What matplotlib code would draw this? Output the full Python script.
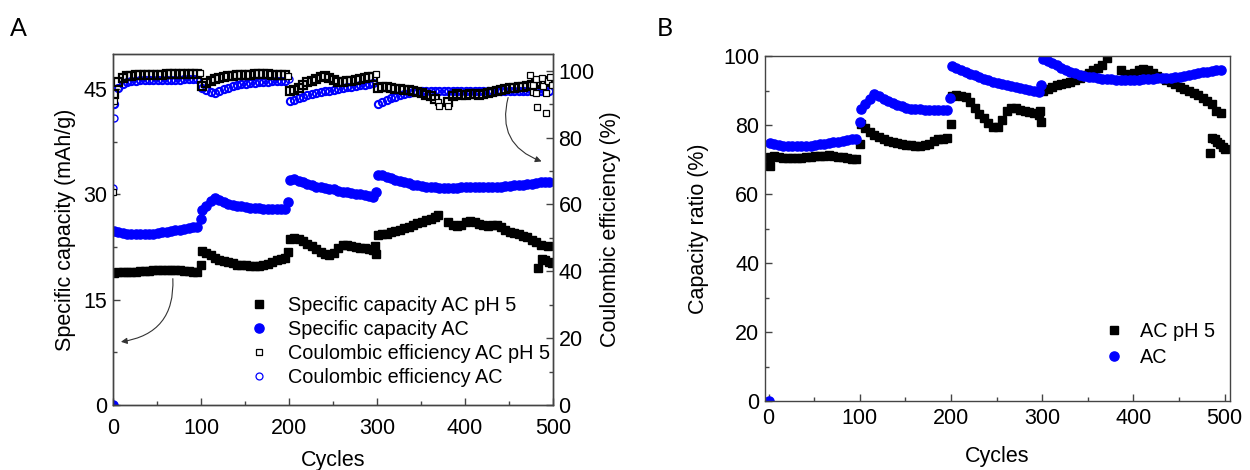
import numpy as np
import matplotlib
matplotlib.use('Agg')
import matplotlib.pyplot as plt

plt.rcParams['font.family'] = ['Liberation Sans', 'DejaVu Sans']

# cycle index of the sampled points (every 5th cycle)
cycles = list(range(1, 500, 5))

# ---- panel A : specific capacity (mAh/g) ----
cap_ph5 = [18.8, 19.0, 19.0, 19.0, 19.0, 19.0, 19.1, 19.1, 19.1, 19.2, 19.2, 19.3, 19.3, 19.3, 19.3, 19.2, 19.1, 19.1, 19.0, 19.0,
           22.0, 21.6, 21.3, 21.0, 20.7, 20.5, 20.3, 20.2, 20.0, 19.9, 19.9, 19.8, 19.8, 19.8, 19.9, 20.1, 20.4, 20.6, 20.8, 21.0,
           23.7, 23.8, 23.6, 23.4, 23.0, 22.6, 22.2, 21.8, 21.5, 21.4, 21.7, 22.4, 22.8, 22.8, 22.6, 22.5, 22.4, 22.3, 22.2, 22.1,
           24.2, 24.3, 24.4, 24.6, 24.8, 25.0, 25.2, 25.4, 25.6, 25.9, 26.1, 26.3, 26.5, 26.8, np.nan, np.nan, 26.0, 25.7, 25.5, 25.6,
           26.1, 26.2, 26.0, 25.8, 25.6, 25.5, 25.7, 25.7, 25.4, 25.0, 24.7, 24.5, 24.3, 24.1, 23.9, 23.5, 23.2, 22.8, 20.6, 20.4]
cap_ph5_x2 = [100, 199, 298, 299, 369, 483, 488, 494, 499]
cap_ph5_y2 = [20.0, 21.8, 22.7, 21.5, 27.0, 19.5, 20.8, 22.6, 20.2]

cap_ac = [24.8, 24.6, 24.5, 24.4, 24.4, 24.3, 24.3, 24.3, 24.4, 24.4, 24.5, 24.6, 24.7, 24.8, 24.9, 25.0, 25.1, 25.2, 25.3, 25.4,
          27.8, 28.4, 29.0, 29.5, 29.2, 28.9, 28.7, 28.5, 28.4, 28.3, 28.2, 28.1, 28.0, 28.0, 27.9, 27.9, 27.9, 27.9, 27.9, 27.9,
          32.1, 32.2, 31.9, 31.7, 31.5, 31.3, 31.1, 31.0, 30.9, 30.8, 30.7, 30.5, 30.4, 30.3, 30.2, 30.1, 30.0, 29.9, 29.8, 29.7,
          32.8, 32.7, 32.5, 32.3, 32.1, 31.9, 31.7, 31.6, 31.4, 31.3, 31.2, 31.1, 31.0, 31.0, 30.9, 30.9, 30.9, 30.9, 30.9, 31.0,
          31.0, 31.0, 31.0, 31.1, 31.1, 31.1, 31.1, 31.1, 31.1, 31.2, 31.2, 31.3, 31.3, 31.4, 31.5, 31.5, 31.6, 31.7, 31.7, 31.8]
cap_ac_x2 = [0, 100, 199, 299]
cap_ac_y2 = [0.0, 26.5, 28.9, 30.4]

# ---- panel A : coulombic efficiency (%) ----
ce_ph5 = [93.0, 96.5, 97.8, 98.3, 98.5, 98.6, 98.7, 98.7, 98.8, 98.8, 98.8, 98.8, 98.9, 98.9, 98.9, 98.9, 98.9, 98.9, 98.9, 98.9,
          95.3, 96.2, 96.9, 97.4, 97.8, 98.1, 98.3, 98.5, 98.6, 98.7, 98.8, 98.8, 98.9, 98.9, 98.9, 98.9, 98.8, 98.8, 98.7, 98.6,
          93.8, 94.2, 94.8, 95.6, 96.5, 97.0, 97.6, 98.2, 98.4, 97.8, 97.1, 96.6, 96.6, 96.8, 97.0, 97.3, 97.6, 97.8, 98.0, 98.2,
          94.8, 95.0, 95.0, 94.8, 94.6, 94.4, 94.3, 94.2, 94.0, 93.6, 93.2, 92.8, 92.3, 91.5, np.nan, np.nan, 90.6, 92.5, 93.0, 92.8,
          92.8, 93.0, 92.9, 92.8, 93.0, 93.4, 93.7, 94.0, 94.2, 94.5, 94.7, 94.8, 95.0, 95.2, 95.5, 95.8, 96.0, 96.5, 97.0, 96.5]
ce_ph5_x2 = [0, 1, 99, 199, 299, 369, 371, 381, 474, 477, 477, 481, 481, 482, 487, 489, 492, 492, 494, 497, 499]
ce_ph5_y2 = [63.7, 91.0, 99.3, 98.5, 99.0, 90.5, 89.5, 89.5, 98.8, 95.8, 93.5, 93.3, 97.5, 89.0, 97.8, 95.3, 93.3, 87.5, 96.8, 98.0, 95.8]

ce_ac = [90.0, 94.8, 96.0, 96.6, 96.9, 97.0, 97.1, 97.1, 97.2, 97.2, 97.2, 97.3, 97.3, 97.3, 97.3, 97.3, 97.4, 97.4, 97.4, 97.4,
         94.8, 94.2, 93.6, 93.3, 93.8, 94.4, 94.9, 95.3, 95.6, 95.9, 96.1, 96.3, 96.4, 96.5, 96.6, 96.7, 96.8, 96.8, 96.9, 96.9,
         90.8, 91.3, 91.8, 92.2, 92.6, 92.9, 93.2, 93.5, 93.8, 94.0, 94.3, 94.5, 94.8, 95.0, 95.2, 95.4, 95.6, 95.8, 96.0, 96.2,
         89.9, 90.5, 91.1, 91.7, 92.2, 92.6, 93.0, 93.3, 93.5, 93.7, 93.8, 93.9, 93.9, 93.9, 93.9, 93.9, 93.9, 93.9, 93.9, 93.9,
         93.9, 93.9, 94.0, 94.0, 94.0, 94.0, 94.0, 94.0, 94.0, 94.0, 94.0, 94.0, 94.0, 94.0, 94.0, 94.0, 94.0, 94.0, 94.0, 94.0]
ce_ac_x2 = [0, 1, 200]
ce_ac_y2 = [65.0, 86.0, 97.6]

# ---- panel B : capacity ratio (%) ----
ratio_ph5 = [70.8, 71.0, 70.8, 70.5, 70.3, 70.3, 70.4, 70.5, 70.6, 70.8, 70.9, 71.0, 71.1, 71.2, 71.1, 70.8, 70.6, 70.4, 70.2, 70.1,
             80.3, 79.0, 78.0, 77.2, 76.6, 76.0, 75.5, 75.1, 74.8, 74.5, 74.3, 74.1, 74.0, 73.9, 74.1, 74.6, 75.3, 75.8, 76.0, 76.1,
             88.5, 88.8, 88.5, 88.0, 86.8, 85.0, 83.3, 82.0, 80.5, 79.3, 79.5, 81.5, 84.0, 85.0, 84.8, 84.3, 84.0, 83.7, 83.4, 83.0,
             90.0, 90.3, 91.0, 91.5, 91.8, 92.1, 92.4, 92.9, 93.6, 94.4, 95.2, 96.0, 96.5, 97.5, 99.5, np.nan, np.nan, 95.8, 94.8, 94.0,
             95.0, 96.0, 96.2, 95.8, 95.0, 94.3, 93.6, 93.0, 92.5, 91.8, 91.0, 90.3, 89.8, 89.2, 88.6, 87.8, 87.0, 86.0, 84.2, 83.5]
ratio_ph5_x2 = [1, 100, 200, 298, 299, 484, 486, 489, 492, 495, 498, 500]
ratio_ph5_y2 = [68.2, 74.5, 80.3, 84.0, 80.8, 72.0, 76.2, 75.8, 75.0, 74.5, 73.5, 73.0]

ratio_ac = [74.8, 74.5, 74.2, 73.9, 73.8, 73.8, 73.8, 73.8, 73.9, 74.0, 74.2, 74.4, 74.6, 74.8, 75.0, 75.2, 75.4, 75.6, 75.8, 76.0,
            84.6, 86.0, 87.5, 89.0, 88.4, 87.6, 86.9, 86.3, 85.8, 85.4, 85.0, 84.7, 84.6, 84.5, 84.4, 84.4, 84.4, 84.4, 84.4, 84.4,
            97.0, 96.6, 96.0, 95.4, 94.9, 94.4, 93.9, 93.4, 93.0, 92.6, 92.3, 92.0, 91.7, 91.4, 91.1, 90.8, 90.5, 90.2, 89.9, 89.6,
            99.0, 98.6, 98.0, 97.3, 96.6, 96.0, 95.5, 95.0, 94.6, 94.2, 94.0, 93.8, 93.6, 93.4, 93.3, 93.2, 93.1, 93.0, 93.0, 93.0,
            93.0, 93.1, 93.2, 93.3, 93.4, 93.5, 93.5, 93.6, 93.7, 93.8, 94.0, 94.2, 94.5, 94.8, 95.0, 95.3, 95.5, 95.7, 95.8, 95.9]
ratio_ac_x2 = [0, 100, 199, 299]
ratio_ac_y2 = [0.0, 81.0, 87.8, 91.5]

W, H = 1250, 470
fig = plt.figure(figsize=(W / 100, H / 100), dpi=100)

spine_col = '#444444'
fs_tick = 15.5
fs_lab = 15.5

def style(ax):
    for s in ax.spines.values():
        s.set_color(spine_col)
        s.set_linewidth(1.0)
    ax.tick_params(direction='in', length=5, width=1, color=spine_col, labelsize=fs_tick, pad=4)
    ax.tick_params(which='minor', direction='in', length=3, width=1, color=spine_col)

# ---------------- panel A ----------------
ax = fig.add_axes([113 / W, 1 - 405 / H, 440 / W, 351 / H])
ax2 = ax.twinx()
style(ax)
style(ax2)

ms = 6.0
mc = 6.6
ax.plot(cycles, cap_ph5, ls='none', marker='s', ms=ms, color='black', mec='black')
ax.plot(cap_ph5_x2, cap_ph5_y2, ls='none', marker='s', ms=ms, color='black')
ax.plot(cycles, cap_ac, ls='none', marker='o', ms=mc, color='blue', mec='blue')
ax.plot(cap_ac_x2, cap_ac_y2, ls='none', marker='o', ms=mc, color='blue')

ax2.plot(cycles, ce_ac, ls='none', marker='o', ms=5.2, mfc='none', mec='blue', mew=1.5)
ax2.plot(ce_ac_x2, ce_ac_y2, ls='none', marker='o', ms=5, mfc='none', mec='blue', mew=1.0)
ax2.plot(cycles, ce_ph5, ls='none', marker='s', ms=5.2, mfc='none', mec='black', mew=1.6)
ax2.plot(ce_ph5_x2, ce_ph5_y2, ls='none', marker='s', ms=5, mfc='white', mec='black', mew=0.9)

# legend proxies
ha, = ax.plot([], [], ls='none', marker='s', ms=ms, color='black')
hb, = ax.plot([], [], ls='none', marker='o', ms=mc, color='blue')
hc, = ax.plot([], [], ls='none', marker='s', ms=5, mfc='white', mec='black', mew=0.9)
hd, = ax.plot([], [], ls='none', marker='o', ms=5, mfc='white', mec='blue', mew=0.9)

ax.set_xlim(0, 500)
ax.set_ylim(0, 50)
ax2.set_ylim(0, 105)
ax.set_xticks([0, 100, 200, 300, 400, 500])
ax.set_xticks([50, 150, 250, 350, 450], minor=True)
ax.set_yticks([0, 15, 30, 45])
ax.set_yticks([7.5, 22.5, 37.5], minor=True)
ax2.set_yticks([0, 20, 40, 60, 80, 100])
ax2.set_yticks([10, 30, 50, 70, 90], minor=True)
ax.tick_params(right=False)
ax.tick_params(axis='x', pad=9)
ax.set_xlabel('Cycles', fontsize=fs_lab, labelpad=8)
ax.set_ylabel('Specific capacity (mAh/g)', fontsize=fs_lab, labelpad=5)
ax2.set_ylabel('Coulombic efficiency (%)', fontsize=fs_lab, labelpad=4)

ax.legend([ha, hb, hc, hd],
          ['Specific capacity AC pH 5', 'Specific capacity AC',
           'Coulombic efficiency AC pH 5', 'Coulombic efficiency AC'],
          loc='upper left', bbox_to_anchor=(0.31, 0.31), frameon=False, fontsize=14.3,
          borderpad=0, borderaxespad=0, handlelength=1.0, handletextpad=0.95,
          labelspacing=0.25, numpoints=1)

# curved arrows pointing to the axes
ax.annotate('', xy=(9, 9.0), xytext=(68, 18.0),
            arrowprops=dict(arrowstyle='-|>', color='#333333', lw=0.8, mutation_scale=9,
                            connectionstyle='arc3,rad=-0.45', shrinkA=0, shrinkB=0))
ax.annotate('', xy=(487, 34.7), xytext=(449, 43.8),
            arrowprops=dict(arrowstyle='-|>', color='#333333', lw=0.8, mutation_scale=9,
                            connectionstyle='arc3,rad=0.45', shrinkA=0, shrinkB=0))

# ---------------- panel B ----------------
bx = fig.add_axes([765 / W, 1 - 401 / H, 465 / W, 345 / H])
style(bx)
bx.plot(cycles, ratio_ph5, ls='none', marker='s', ms=ms, color='black')
bx.plot(ratio_ph5_x2, ratio_ph5_y2, ls='none', marker='s', ms=ms, color='black')
bx.plot(cycles, ratio_ac, ls='none', marker='o', ms=mc, color='blue')
bx.plot(ratio_ac_x2, ratio_ac_y2, ls='none', marker='o', ms=mc, color='blue')
hb1, = bx.plot([], [], ls='none', marker='s', ms=ms, color='black')
hb2, = bx.plot([], [], ls='none', marker='o', ms=mc, color='blue')
bx.set_xlim(-4, 506)
bx.set_ylim(0, 100)
bx.set_xticks([0, 100, 200, 300, 400, 500])
bx.set_xticks([50, 150, 250, 350, 450], minor=True)
bx.set_yticks([0, 20, 40, 60, 80, 100])
bx.set_yticks([10, 30, 50, 70, 90], minor=True)
bx.tick_params(axis='x', pad=5)
bx.set_xlabel('Cycles', fontsize=fs_lab, labelpad=12)
bx.set_ylabel('Capacity ratio (%)', fontsize=fs_lab, labelpad=10)
bx.legend([hb1, hb2], ['AC pH 5', 'AC'], loc='upper left', bbox_to_anchor=(0.729, 0.23),
          frameon=False, fontsize=14.3, borderpad=0, borderaxespad=0, handlelength=1.0,
          handletextpad=0.8, labelspacing=0.35, numpoints=1)

fig.text(10 / W, 1 - 36 / H, 'A', fontsize=18, family=['Lato', 'DejaVu Sans'])
fig.text(657 / W, 1 - 36 / H, 'B', fontsize=18, family=['Lato', 'DejaVu Sans'])

fig.savefig('out.png', dpi=100)
